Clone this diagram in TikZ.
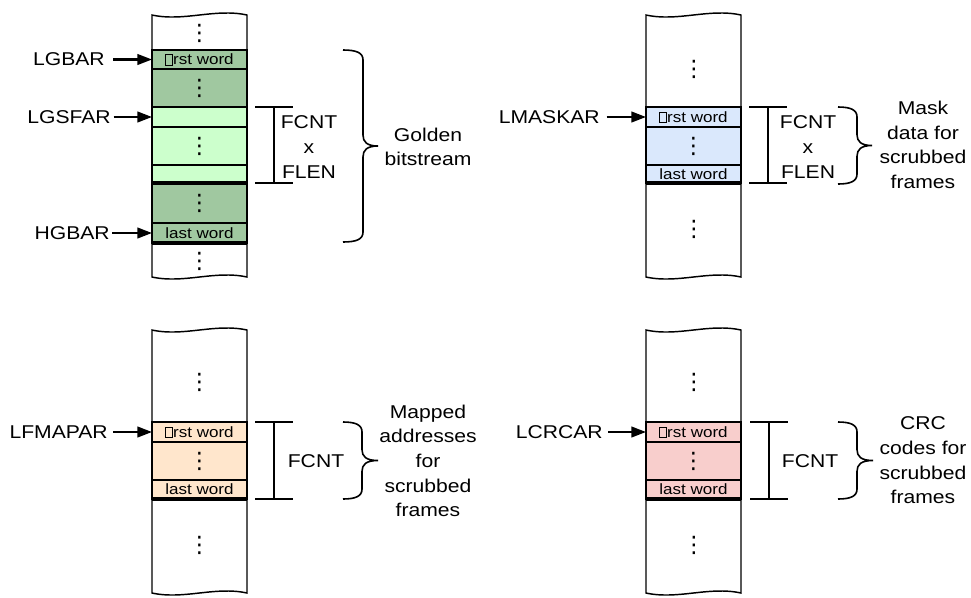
\documentclass[tikz,border=0pt]{standalone}
\usepackage{fontspec}
\setmainfont{Liberation Sans}[FakeStretch=1.14]
\newfontfamily\dejavu{DejaVu Sans}
\usetikzlibrary{arrows.meta}
\definecolor{dkgreen}{HTML}{A0C8A0}
\definecolor{ltgreen}{HTML}{CCFFCC}
\definecolor{ltblue}{HTML}{DAE8FC}
\definecolor{ltorange}{HTML}{FFE6CC}
\definecolor{ltpink}{HTML}{F8CECC}
\newcommand{\bigf}{\fontsize{13.9}{18.5}\selectfont}
\newcommand{\smallf}{\fontsize{11.2}{13}\selectfont}
\newcommand{\vd}{{\dejavu\fontsize{17}{17}\selectfont ⋮}}
\newcommand{\nog}{{\setlength\fboxsep{0pt}\setlength\fboxrule{0.6pt}\fbox{\rule{0pt}{0.62em}\hspace{0.42em}}}}
% column outline with wavy top and bottom: xleft, ytop, ybot
\newcommand{\memcol}[3]{%
  \draw[colline, fill=white] (#1,#2) .. controls (#1+32,#2+7) and (#1+63,#2-7) .. (#1+95,#2)
    -- (#1+95,#3) .. controls (#1+63,#3-7) and (#1+32,#3+7) .. (#1,#3) -- cycle;}
% memory row: name, xleft, ytop, ybot, fill, text
\newcommand{\memrow}[6]{%
  \pgfmathsetmacro\rowh{(#4-#3)*0.75}%
  \node[rowbox, fill=#5, minimum height=\rowh pt] (#1) at ({#2+47.5},{(#3+#4)/2}) {#6};}
% I-bar: xleft, xright, ytop, ybot
\newcommand{\ibar}[4]{%
  \draw[barline] (#1,#3) -- (#2,#3) (#1,#4) -- (#2,#4) ({(#1+#2)/2},#3) -- ({(#1+#2)/2},#4);}
% brace: xend, xvert, xtip, ytop, ybot
\newcommand{\mybrace}[5]{%
  \pgfmathsetmacro\ym{(#4+#5)/2}%
  \draw[brc] (#1,#4) .. controls (#2-6,#4) and (#2,#4+3) .. (#2,#4+10)
    -- (#2,\ym-11) .. controls (#2,\ym-4) and (#2+4,\ym) .. (#3,\ym)
    .. controls (#2+4,\ym) and (#2,\ym+4) .. (#2,\ym+11)
    -- (#2,#5-10) .. controls (#2,#5-3) and (#2-6,#5) .. (#1,#5);}
\begin{document}
\begin{tikzpicture}[x=0.75pt,y=-0.75pt,
  colline/.style={line width=1.1pt},
  rowbox/.style={draw, line width=1.3pt, minimum width=71.25pt, inner sep=0pt, outer sep=0pt, font=\smallf},
  thickb/.style={line width=2.4pt},
  lbl/.style={font=\bigf, inner sep=0pt, anchor=east},
  arr/.style={-{Triangle[length=11pt,width=8pt]}, line width=1.6pt},
  barline/.style={line width=1.2pt},
  brc/.style={line width=1.2pt},
  txt/.style={font=\bigf, align=center, inner sep=0pt},
  dotsn/.style={inner sep=0pt}]
\useasboundingbox (0,0) rectangle (971,597);

% ===== top-left: golden bitstream =====
\memcol{152}{15}{277}
\node[dotsn] (tlda) at (199.5,33) {\vd};
\node[dotsn] (tldb) at (199.5,261) {\vd};
\memrow{tl1}{152}{50}{69}{dkgreen}{\nog rst word}
\memrow{tl2}{152}{69}{107}{dkgreen}{\vd}
\memrow{tl3}{152}{107}{127}{ltgreen}{}
\memrow{tl4}{152}{127}{165}{ltgreen}{\vd}
\memrow{tl5}{152}{165}{183}{ltgreen}{}
\memrow{tl6}{152}{183}{223}{dkgreen}{\vd}
\memrow{tl7}{152}{223}{243}{dkgreen}{last word}
\draw[thickb] (tl5.south west) -- (tl5.south east);
\draw[thickb] (tl7.south west) -- (tl7.south east);
\node[lbl] (lgbar) at (105,59.5) {LGBAR};
\node[lbl] (lgsfar) at (111,117) {LGSFAR};
\node[lbl] (hgbar) at (110,233) {HGBAR};
\draw[arr, shorten <=6pt] (lgbar.east) -- (tl1.west);
\draw[arr, shorten <=2pt] (lgsfar.east) -- (tl3.west);
\draw[arr, shorten <=1.5pt] (hgbar.east) -- (tl7.west);
\ibar{255}{293}{107}{183}
\node[txt] (fcnta) at (309,147) {FCNT\\x\\FLEN};
\mybrace{343}{363}{378}{50}{242}
\node[txt] (golden) at (428,147) {Golden\\bitstream};

% ===== top-right: mask data =====
\memcol{646}{15}{277}
\node[dotsn] (trda) at (694,69.5) {\vd};
\node[dotsn] (trdb) at (694,229.5) {\vd};
\memrow{tr1}{646}{107}{127}{ltblue}{\nog rst word}
\memrow{tr2}{646}{127}{165}{ltblue}{\vd}
\memrow{tr3}{646}{165}{183}{ltblue}{last word}
\draw[thickb] (tr3.south west) -- (tr3.south east);
\node[lbl] (lmaskar) at (600,117) {LMASKAR};
\draw[arr, shorten <=5pt] (lmaskar.east) -- (tr1.west);
\ibar{749}{787}{107}{183}
\node[txt] (fcntb) at (808,147) {FCNT\\x\\FLEN};
\mybrace{838}{857}{872}{107}{184}
\node[txt] (mask) at (923,145) {Mask\\data for\\scrubbed\\frames};

% ===== bottom-left: mapped addresses =====
\memcol{152}{330}{593}
\node[dotsn] (blda) at (199.5,382) {\vd};
\node[dotsn] (bldb) at (199.5,545) {\vd};
\memrow{bl1}{152}{422}{442}{ltorange}{\nog rst word}
\memrow{bl2}{152}{442}{480}{ltorange}{\vd}
\memrow{bl3}{152}{480}{499}{ltorange}{last word}
\draw[thickb] (bl3.south west) -- (bl3.south east);
\node[lbl] (lfmapar) at (108,432) {LFMAPAR};
\draw[arr, shorten <=4pt] (lfmapar.east) -- (bl1.west);
\ibar{255}{293}{422}{499}
\node[txt] (fcntc) at (316,461) {FCNT};
\mybrace{343}{362}{378}{422}{499}
\node[txt] (mapped) at (428,461) {Mapped\\addresses\\for\\scrubbed\\frames};

% ===== bottom-right: CRC codes =====
\memcol{646}{330}{593}
\node[dotsn] (brda) at (694,382) {\vd};
\node[dotsn] (brdb) at (694,545) {\vd};
\memrow{br1}{646}{422}{442}{ltpink}{\nog rst word}
\memrow{br2}{646}{442}{480}{ltpink}{\vd}
\memrow{br3}{646}{480}{499}{ltpink}{last word}
\draw[thickb] (br3.south west) -- (br3.south east);
\node[lbl] (lcrcar) at (603,432) {LCRCAR};
\draw[arr, shorten <=4pt] (lcrcar.east) -- (br1.west);
\ibar{750}{788}{422}{499}
\node[txt] (fcntd) at (810,461) {FCNT};
\mybrace{838}{857}{873}{422}{499}
\node[txt] (crc) at (923,460.5) {CRC\\codes for\\scrubbed\\frames};
\end{tikzpicture}
\end{document}
